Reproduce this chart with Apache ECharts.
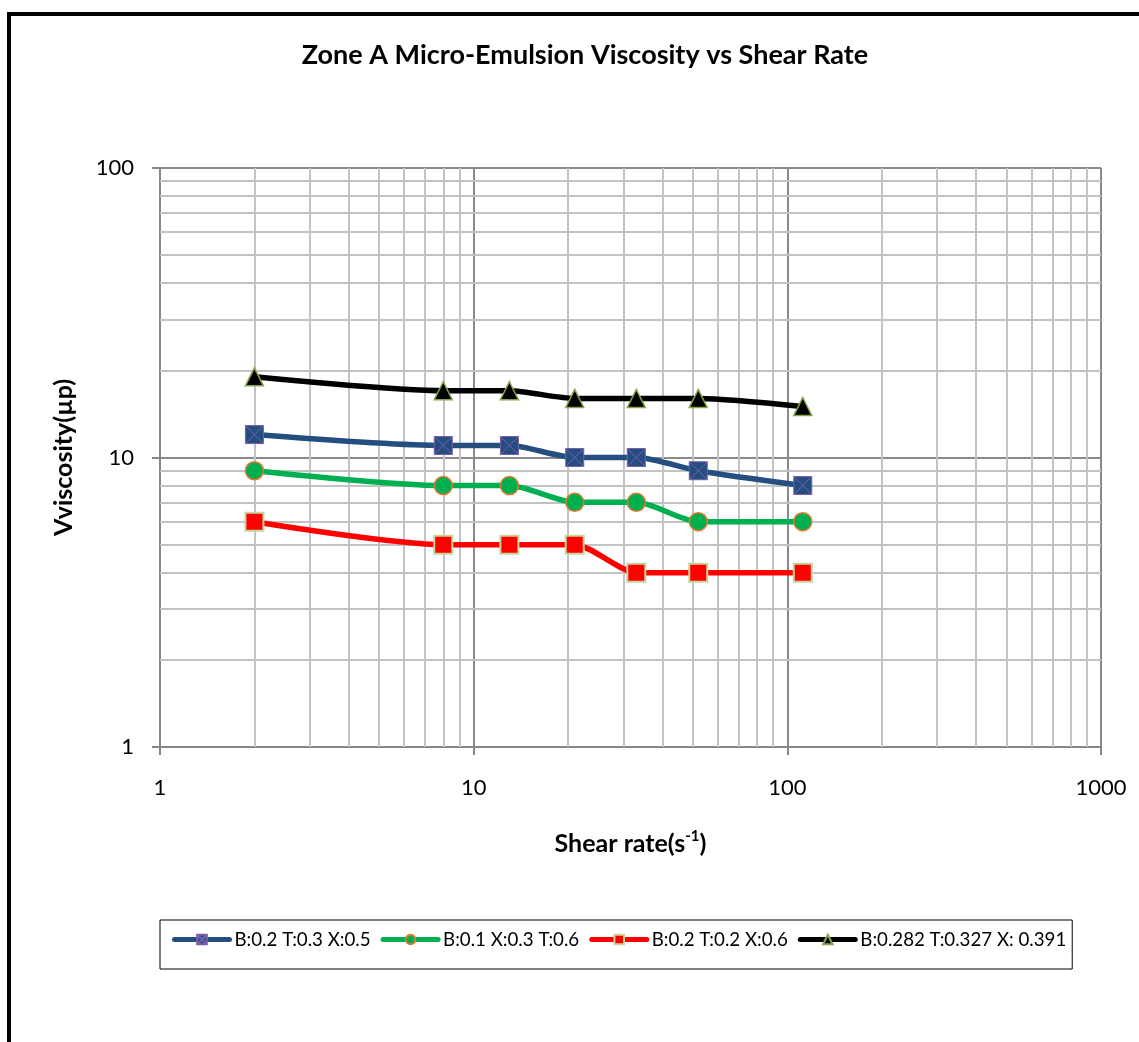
<!DOCTYPE html>
<html>
<head>
<meta charset="utf-8">
<script src="https://cdn.jsdelivr.net/npm/echarts@6/dist/echarts.min.js"></script>
<style>
  html, body { margin: 0; padding: 0; background: #fff; }
  #chart { width: 1139px; height: 1042px; }
</style>
</head>
<body>
<div id="chart"></div>
<script>
// Shear rates (s^-1) at which viscosity was measured
const shearRate = [2, 8, 13, 21, 33, 52, 112];

// Viscosity (µp) per composition
const viscB02T03X05 = [12, 11, 11, 10, 10, 9, 8];
const viscB01X03T06 = [9, 8, 8, 7, 7, 6, 6];
const viscB02T02X06 = [6, 5, 5, 5, 4, 4, 4];
const viscB0282T0327X0391 = [19, 17, 17, 16, 16, 16, 15];

const seriesNames = [
  'B:0.2 T:0.3 X:0.5',
  'B:0.1 X:0.3 T:0.6',
  'B:0.2 T:0.2 X:0.6',
  'B:0.282 T:0.327 X: 0.391'
];

// Intermediate log-decade gridline positions
const minorGridX = [2, 3, 4, 5, 6, 7, 8, 9, 20, 30, 40, 50, 60, 70, 80, 90, 200, 300, 400, 500, 600, 700, 800, 900];
const minorGridY = [2, 3, 4, 5, 6, 7, 8, 9, 20, 30, 40, 50, 60, 70, 80, 90];

const FONT = 'Lato, "Noto Sans", sans-serif';

function pairs(xs, ys) {
  return xs.map((x, i) => [x, ys[i]]);
}

// square marker crossed by an X
const squareX = 'path://M0,0 L10,0 L10,10 L0,10 Z M0,0 L10,10 M10,0 L0,10';

const lineSeries = (name, values, color, symbol, borderColor, borderWidth) => ({
  name: name,
  type: 'line',
  data: pairs(shearRate, values),
  smooth: 0.25,
  symbol: symbol,
  symbolSize: 18,
  z: 3,
  lineStyle: { color: color, width: 5.5 },
  itemStyle: { color: color, borderColor: borderColor, borderWidth: borderWidth },
  emphasis: { disabled: true },
  animation: false
});

const chart = echarts.init(document.getElementById('chart'), null, { renderer: 'canvas' });

const option = {
  backgroundColor: '#fff',
  animation: false,
  title: {
    text: 'Zone A Micro-Emulsion Viscosity vs Shear Rate',
    left: 580,
    top: 37,
    textAlign: 'center',
    textStyle: { fontFamily: FONT, fontSize: 27, fontWeight: 'bold', color: '#000' }
  },
  graphic: [{
    type: 'rect',
    shape: { x: 9, y: 14, width: 1200, height: 1100 },
    style: { fill: null, stroke: '#000', lineWidth: 4 },
    silent: true,
    z: 100
  }],
  legend: {
    data: seriesNames,
    left: 160,
    top: 920,
    orient: 'horizontal',
    itemWidth: 55,
    itemHeight: 12,
    itemGap: 10,
    padding: [10, 6, 20, 12],
    borderColor: '#000',
    borderWidth: 1,
    backgroundColor: '#fff',
    lineStyle: { width: 5, cap: 'round' },
    textStyle: { fontFamily: FONT, fontSize: 18.7, color: '#000' }
  },
  grid: { left: 160, top: 168, right: 38, bottom: 295, containLabel: false },
  xAxis: {
    type: 'log',
    logBase: 10,
    min: 1,
    max: 1000,
    name: '{a|Shear rate(s}{sup|-1}{a|)}',
    nameLocation: 'middle',
    nameGap: 82,
    nameTextStyle: {
      rich: {
        a: { fontFamily: FONT, fontSize: 25, fontWeight: 'bold', color: '#000', lineHeight: 30 },
        sup: { fontFamily: FONT, fontSize: 15, fontWeight: 'bold', color: '#000', verticalAlign: 'top', lineHeight: 17 }
      }
    },
    axisLine: { show: true, lineStyle: { color: '#868686', width: 2 } },
    axisTick: { show: true, inside: false, length: 8, lineStyle: { color: '#868686', width: 2 } },
    axisLabel: {
      margin: 30,
      fontFamily: FONT,
      fontSize: 22,
      color: '#000',
      formatter: v => String(Math.round(v))
    },
    splitLine: { show: true, lineStyle: { color: '#8a8a8a', width: 2 } }
  },
  yAxis: {
    type: 'log',
    logBase: 10,
    min: 1,
    max: 100,
    name: 'Vviscosity(µp)',
    nameLocation: 'middle',
    nameGap: 84,
    nameRotate: 90,
    nameTextStyle: { fontFamily: FONT, fontSize: 25, fontWeight: 'bold', color: '#000' },
    axisLine: { show: true, lineStyle: { color: '#868686', width: 2 } },
    axisTick: { show: true, inside: false, length: 8, lineStyle: { color: '#868686', width: 2 } },
    axisLabel: {
      margin: 26,
      fontFamily: FONT,
      fontSize: 22,
      color: '#000',
      formatter: v => String(Math.round(v))
    },
    splitLine: { show: true, lineStyle: { color: '#8a8a8a', width: 2 } }
  },
  series: [
    {
      name: 'minor-grid',
      type: 'line',
      data: [],
      z: 1,
      silent: true,
      markLine: {
        z: 1,
        silent: true,
        symbol: ['none', 'none'],
        label: { show: false },
        lineStyle: { color: '#c3c3c3', width: 2, type: 'solid' },
        emphasis: { disabled: true },
        animation: false,
        data: minorGridX.map(v => ({ xAxis: v })).concat(minorGridY.map(v => ({ yAxis: v })))
      }
    },
    lineSeries(seriesNames[0], viscB02T03X05, '#254e80', squareX, '#7a5ea8', 1),
    lineSeries(seriesNames[1], viscB01X03T06, '#00b050', 'circle', '#e3782f', 1.5),
    lineSeries(seriesNames[2], viscB02T02X06, '#ff0000', 'rect', '#c3d69b', 2),
    lineSeries(seriesNames[3], viscB0282T0327X0391, '#000000', 'triangle', '#86a54a', 1.5)
  ]
};

chart.setOption(option);
</script>
</body>
</html>
